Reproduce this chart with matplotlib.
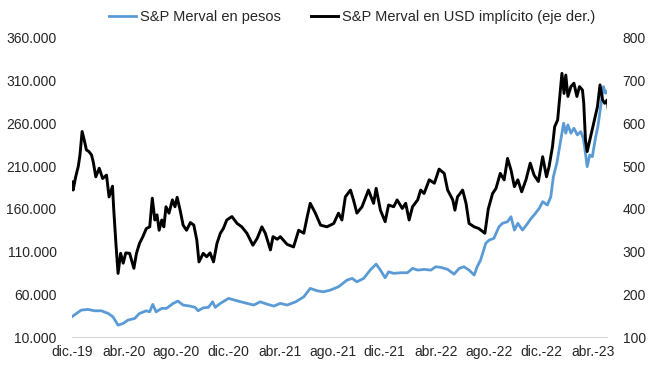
import matplotlib.pyplot as plt
import pandas as pd

plt.rcParams['font.family'] = ['Liberation Sans', 'DejaVu Sans']

# S&P Merval en pesos (eje izq.)
pesos_fechas = ['2019-12-01', '2019-12-12', '2019-12-23', '2020-01-08', '2020-01-23', '2020-02-08',
                '2020-02-24', '2020-03-06', '2020-03-18', '2020-03-30', '2020-04-10', '2020-04-26',
                '2020-05-07', '2020-05-23', '2020-05-31', '2020-06-07', '2020-06-15', '2020-06-28',
                '2020-07-09', '2020-07-25', '2020-08-05', '2020-08-17', '2020-09-02', '2020-09-14',
                '2020-09-21', '2020-10-03', '2020-10-15', '2020-10-25', '2020-10-31', '2020-11-12',
                '2020-12-01', '2020-12-21', '2021-01-13', '2021-01-29', '2021-02-13', '2021-03-01',
                '2021-03-17', '2021-04-01', '2021-04-17', '2021-05-07', '2021-05-26', '2021-06-10',
                '2021-06-26', '2021-07-11', '2021-07-27', '2021-08-15', '2021-09-04', '2021-09-16',
                '2021-09-27', '2021-10-13', '2021-10-28', '2021-11-11', '2021-11-21', '2021-12-02',
                '2021-12-10', '2021-12-22', '2022-01-07', '2022-01-23', '2022-02-04', '2022-02-16',
                '2022-03-03', '2022-03-19', '2022-03-30', '2022-04-11', '2022-04-27', '2022-05-12',
                '2022-05-24', '2022-06-04', '2022-06-16', '2022-06-28', '2022-07-05', '2022-07-13',
                '2022-07-25', '2022-08-02', '2022-08-13', '2022-08-25', '2022-09-02', '2022-09-14',
                '2022-09-22', '2022-09-30', '2022-10-08', '2022-10-19', '2022-10-31', '2022-11-08',
                '2022-11-15', '2022-11-27', '2022-12-05', '2022-12-16', '2022-12-24', '2022-12-30',
                '2023-01-07', '2023-01-15', '2023-01-23', '2023-01-28', '2023-02-02', '2023-02-09',
                '2023-02-16', '2023-02-24', '2023-03-04', '2023-03-10', '2023-03-14', '2023-03-19',
                '2023-03-25', '2023-03-31', '2023-04-08', '2023-04-13', '2023-04-19', '2023-04-26',
                '2023-05-01', '2023-05-08']
pesos = [33800, 37700, 41600, 42400, 40800, 40800,
         37700, 33800, 24000, 26000, 29900, 31900,
         37700, 40800, 39600, 48300, 39600, 43600,
         43600, 49500, 52100, 47500, 46300, 44800,
         40800, 44300, 44800, 51300, 44800, 49500,
         55300, 52500, 49500, 47500, 51300, 48600,
         46300, 49500, 47500, 51300, 57200, 67000,
         64200, 63000, 65000, 68900, 76700, 78700,
         74700, 78700, 88400, 95400, 88400, 79400,
         86400, 84600, 85300, 85300, 90400, 88400,
         89200, 88400, 92300, 91600, 89200, 83700,
         90400, 92300, 88400, 82600, 92300, 100100,
         119700, 123500, 125500, 139100, 143100, 145000,
         150800, 135200, 143100, 135200, 143100, 148900,
         152800, 160600, 168400, 164500, 174200, 197600,
         213300, 236700, 260200, 248500, 258200, 248500,
         254300, 246500, 250300, 242600, 228900, 209400,
         223000, 221000, 244500, 256200, 277700, 303000,
         295200, 299100]

# S&P Merval en USD implícito (eje der.)
usd_fechas = ['2019-12-02', '2019-12-04', '2019-12-10', '2019-12-16', '2019-12-20', '2019-12-25',
              '2019-12-30', '2020-01-04', '2020-01-10', '2020-01-16', '2020-01-20', '2020-01-26',
              '2020-02-03', '2020-02-11', '2020-02-20', '2020-02-26', '2020-03-05', '2020-03-08',
              '2020-03-13', '2020-03-18', '2020-03-24', '2020-03-30', '2020-04-05', '2020-04-14',
              '2020-04-24', '2020-04-30', '2020-05-07', '2020-05-15', '2020-05-23', '2020-05-31',
              '2020-06-06', '2020-06-12', '2020-06-17', '2020-06-22', '2020-06-28', '2020-07-03',
              '2020-07-08', '2020-07-15', '2020-07-23', '2020-07-29', '2020-08-03', '2020-08-10',
              '2020-08-17', '2020-08-25', '2020-09-03', '2020-09-11', '2020-09-18', '2020-09-23',
              '2020-10-03', '2020-10-11', '2020-10-19', '2020-10-27', '2020-11-04', '2020-11-12',
              '2020-11-19', '2020-11-27', '2020-12-09', '2020-12-21', '2021-01-01', '2021-01-13',
              '2021-01-27', '2021-02-06', '2021-02-17', '2021-02-25', '2021-03-09', '2021-03-15',
              '2021-03-25', '2021-04-01', '2021-04-17', '2021-05-02', '2021-05-14', '2021-05-26',
              '2021-06-03', '2021-06-10', '2021-06-22', '2021-07-04', '2021-07-19', '2021-08-04',
              '2021-08-15', '2021-08-23', '2021-08-31', '2021-09-12', '2021-09-19', '2021-09-27',
              '2021-10-09', '2021-10-24', '2021-11-05', '2021-11-11', '2021-11-21', '2021-12-02',
              '2021-12-10', '2021-12-22', '2021-12-30', '2022-01-11', '2022-01-19', '2022-01-27',
              '2022-02-04', '2022-02-16', '2022-02-23', '2022-03-03', '2022-03-15', '2022-03-27',
              '2022-04-07', '2022-04-19', '2022-04-27', '2022-05-09', '2022-05-14', '2022-05-20',
              '2022-06-01', '2022-06-09', '2022-06-16', '2022-06-28', '2022-07-09', '2022-07-23',
              '2022-07-31', '2022-08-10', '2022-08-18', '2022-08-28', '2022-09-06', '2022-09-14',
              '2022-09-22', '2022-09-30', '2022-10-08', '2022-10-17', '2022-10-27', '2022-11-06',
              '2022-11-15', '2022-11-25', '2022-12-05', '2022-12-14', '2022-12-20', '2022-12-28',
              '2023-01-02', '2023-01-09', '2023-01-14', '2023-01-19', '2023-01-24', '2023-01-28',
              '2023-02-02', '2023-02-09', '2023-02-16', '2023-02-23', '2023-03-01', '2023-03-08',
              '2023-03-11', '2023-03-15', '2023-03-19', '2023-03-27', '2023-04-04', '2023-04-12',
              '2023-04-18', '2023-04-24', '2023-04-29', '2023-05-05', '2023-05-08']
usd = [463, 444, 475, 499, 526, 581,
       561, 538, 534, 526, 510, 475,
       495, 471, 479, 428, 453, 397,
       319, 249, 296, 273, 297, 296,
       261, 296, 319, 335, 354, 358,
       425, 374, 386, 350, 374, 358,
       405, 390, 421, 405, 427, 397,
       362, 350, 368, 362, 327, 276,
       296, 288, 297, 276, 319, 343,
       354, 374, 382, 366, 358, 343,
       315, 331, 358, 343, 304, 335,
       329, 335, 317, 311, 350, 343,
       382, 413, 390, 362, 358, 366,
       390, 374, 428, 444, 421, 390,
       405, 444, 413, 448, 397, 370,
       409, 405, 421, 401, 413, 374,
       405, 421, 444, 436, 468, 460,
       493, 483, 444, 421, 397, 428,
       444, 413, 366, 358, 354, 343,
       400, 436, 448, 483, 468, 518,
       491, 452, 468, 440, 468, 507,
       479, 464, 522, 475, 499, 546,
       592, 608, 663, 717, 670, 713,
       663, 686, 694, 663, 686, 678,
       647, 561, 534, 569, 604, 639,
       690, 655, 647, 655, 627]

tick_fechas = ['2019-12-01', '2020-04-01', '2020-08-01', '2020-12-01', '2021-04-01', '2021-08-01',
               '2021-12-01', '2022-04-01', '2022-08-01', '2022-12-01', '2023-04-01']
tick_labels = ['dic.-19', 'abr.-20', 'ago.-20', 'dic.-20', 'abr.-21', 'ago.-21',
               'dic.-21', 'abr.-22', 'ago.-22', 'dic.-22', 'abr.-23']
left_ticks = [10000, 60000, 110000, 160000, 210000, 260000, 310000, 360000]
right_ticks = [100, 200, 300, 400, 500, 600, 700, 800]

txt = '#262626'
fig = plt.figure(figsize=(6.53, 3.75), dpi=100)
ax = fig.add_axes([0.110, 0.101, 0.820, 0.798])
ax2 = ax.twinx()

l1, = ax.plot(pd.to_datetime(pesos_fechas), pesos, color='#5B9BD5', lw=2.0,
              label='S&P Merval en pesos')
l2, = ax2.plot(pd.to_datetime(usd_fechas), usd, color='black', lw=2.1,
               label='S&P Merval en USD implícito (eje der.)')

ax.set_xlim(pd.Timestamp('2019-12-01'), pd.Timestamp('2023-05-05'))
ax.set_ylim(10000, 360000)
ax2.set_ylim(100, 800)

ax.set_xticks(pd.to_datetime(tick_fechas))
ax.set_xticklabels(tick_labels)
ax.set_yticks(left_ticks)
ax.set_yticklabels([f'{v:,.0f}'.replace(',', '.') for v in left_ticks])
ax2.set_yticks(right_ticks)
ax2.set_yticklabels([str(v) for v in right_ticks])

for a in (ax, ax2):
    for s in a.spines.values():
        s.set_visible(False)
ax.spines['bottom'].set_visible(True)
ax.spines['bottom'].set_color('#d9d9d9')
ax.spines['bottom'].set_linewidth(0.8)

ax.tick_params(axis='x', length=0, pad=6, labelsize=10, colors=txt)
ax.tick_params(axis='y', length=0, pad=11, labelsize=10, colors=txt)
ax2.tick_params(axis='y', length=0, pad=11, labelsize=10, colors=txt)

fig.legend(handles=[l1, l2], loc='center', bbox_to_anchor=(0.539, 0.955), ncol=2,
           frameon=False, fontsize=10.5, handlelength=1.85, handletextpad=0.3,
           columnspacing=2.05, labelcolor=txt)

fig.savefig('out.png', dpi=100)
